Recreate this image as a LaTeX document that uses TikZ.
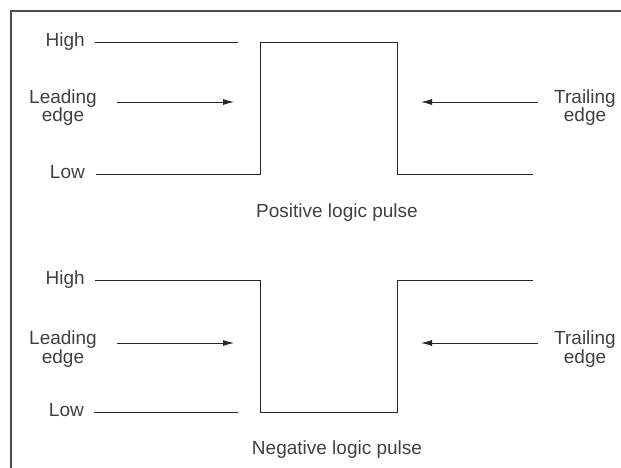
\documentclass[tikz,border=0pt]{standalone}
\usepackage{fontspec}
\setmainfont{Liberation Sans}
\usetikzlibrary{arrows.meta,positioning}

\begin{document}
\begin{tikzpicture}[x=1pt,y=-1pt,
  wave/.style={line width=0.9pt,color=black!85},
  lbl/.style={inner sep=0pt,text=black!75,font=\fontsize{19}{17}\selectfont},
  level/.style={lbl,text height=13pt,text depth=4pt},
  edgenote/.style={lbl,align=center,anchor=base},
  edgearrow/.style={-{Latex[length=11pt,width=6pt]},line width=0.8pt,color=black!85}]
  \useasboundingbox (0,0) rectangle (621,468);
  \draw[line width=1.3pt,color=black!70] (621,11) -- (11,11) -- (11,468);
  % positive logic pulse
  \coordinate (pHighL) at (95,42);
  \coordinate (pHighR) at (238,42);
  \coordinate (pLowL) at (96,174);
  \coordinate (pRise) at (260,174);
  \coordinate (pFall) at (397,42);
  \coordinate (pLowR) at (533,174);
  \draw[wave] (pHighL) -- (pHighR);
  \draw[wave] (pLowL) -- (pRise) -- (pRise |- pHighL) -- (pFall) -- (pFall |- pLowL) -- (pLowR);
  \node[level,left=10pt of pHighL] (pHigh) {High};
  \node[level,left=11pt of pLowL] (pLow) {Low};
  \coordinate (pLeadA) at (117,102);
  \coordinate (pLeadB) at (234,102);
  \coordinate (pTrailA) at (538,102);
  \coordinate (pTrailB) at (421,102);
  \draw[edgearrow] (pLeadA) -- (pLeadB);
  \draw[edgearrow] (pTrailA) -- (pTrailB);
  \node[edgenote] (pLead) at (63,122) {Leading\\edge};
  \node[edgenote] (pTrail) at (585,122) {Trailing\\edge};
  \node[lbl,anchor=base] (pCap) at (337,217) {Positive logic pulse};
  % negative logic pulse
  \coordinate (nHighL) at (95,280);
  \coordinate (nFall) at (260,280);
  \coordinate (nRise) at (397,412);
  \coordinate (nHighR) at (533,280);
  \coordinate (nLowL) at (94,412);
  \coordinate (nLowR) at (238,412);
  \draw[wave] (nHighL) -- (nFall) -- (nFall |- nRise) -- (nRise) -- (nRise |- nHighL) -- (nHighR);
  \draw[wave] (nLowL) -- (nLowR);
  \node[level,left=10pt of nHighL] (nHigh) {High};
  \node[level,left=10pt of nLowL] (nLow) {Low};
  \coordinate (nLeadA) at (117,343);
  \coordinate (nLeadB) at (234,343);
  \coordinate (nTrailA) at (538,343);
  \coordinate (nTrailB) at (421,343);
  \draw[edgearrow] (nLeadA) -- (nLeadB);
  \draw[edgearrow] (nTrailA) -- (nTrailB);
  \node[edgenote] (nLead) at (63,363) {Leading\\edge};
  \node[edgenote] (nTrail) at (585,363) {Trailing\\edge};
  \node[lbl,anchor=base] (nCap) at (337,454) {Negative logic pulse};
\end{tikzpicture}
\end{document}
